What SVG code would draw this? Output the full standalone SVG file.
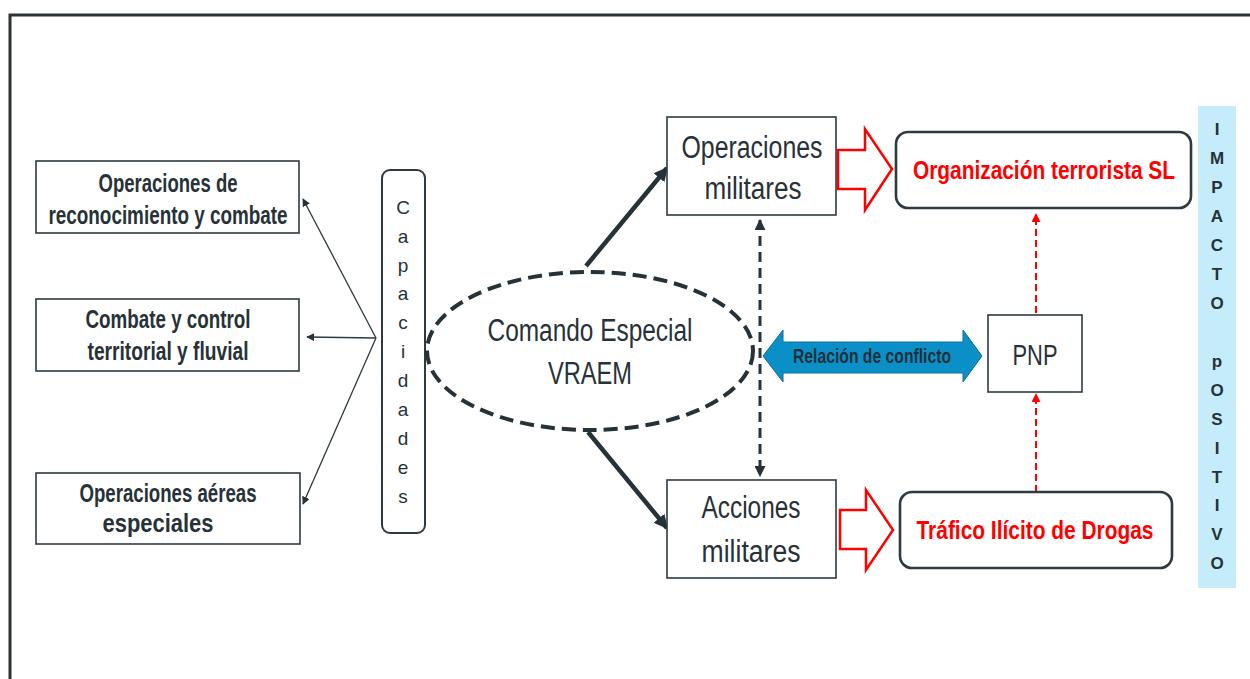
<svg xmlns="http://www.w3.org/2000/svg" width="1250" height="679" viewBox="0 0 1250 679">
<style>
text{font-family:"Liberation Sans Narrow","Liberation Sans",Arial,sans-serif;fill:#263238;text-anchor:middle}
.b{font-weight:bold}
.box{fill:#fff;stroke:#2e3a40;stroke-width:1.6}
.rbox{fill:#fff;stroke:#2e3a40;stroke-width:2.6}
.red{fill:#ff0000}
.thin{stroke:#2e3a40;stroke-width:1.3;fill:none}
.thick{stroke:#263238;stroke-width:4.5;fill:none}
.let{font-size:19px}
.imp{font-size:17px;font-weight:bold}
</style>
<defs>
<marker id="ah" viewBox="0 0 10 10" refX="9" refY="5" markerWidth="8" markerHeight="8" markerUnits="userSpaceOnUse" orient="auto"><path d="M0,0 L10,5 L0,10 z" fill="#263238"/></marker>
<marker id="ahT" viewBox="0 0 10 10" refX="9" refY="5" markerWidth="14" markerHeight="14" markerUnits="userSpaceOnUse" orient="auto"><path d="M0,0 L10,5 L0,10 z" fill="#263238"/></marker>
<marker id="ahD" viewBox="0 0 10 10" refX="9" refY="5" markerWidth="11" markerHeight="11" markerUnits="userSpaceOnUse" orient="auto-start-reverse"><path d="M0,0 L10,5 L0,10 z" fill="#263238"/></marker>
<marker id="ahR" viewBox="0 0 10 10" refX="9" refY="5" markerWidth="9" markerHeight="9" markerUnits="userSpaceOnUse" orient="auto"><path d="M0,0 L10,5 L0,10 z" fill="#ff0000"/></marker>
</defs>
<rect width="1250" height="679" fill="#fff"/>
<path d="M10,679 V15 H1250" fill="none" stroke="#2b3338" stroke-width="3"/>

<g id="impacto">
<rect x="1198" y="106" width="38" height="482" fill="#c5ecfb"/>
<text class="imp" x="1217" y="135">I</text>
<text class="imp" x="1217" y="164">M</text>
<text class="imp" x="1217" y="193">P</text>
<text class="imp" x="1217" y="222">A</text>
<text class="imp" x="1217" y="251">C</text>
<text class="imp" x="1217" y="280">T</text>
<text class="imp" x="1217" y="309">O</text>
<text class="imp" x="1217" y="367">p</text>
<text class="imp" x="1217" y="396">O</text>
<text class="imp" x="1217" y="425">S</text>
<text class="imp" x="1217" y="454">I</text>
<text class="imp" x="1217" y="483">T</text>
<text class="imp" x="1217" y="511">I</text>
<text class="imp" x="1217" y="540">V</text>
<text class="imp" x="1217" y="569">O</text>
</g>

<g id="connectors">
<line class="thin" x1="376" y1="338" x2="303" y2="199" marker-end="url(#ah)"/>
<line class="thin" x1="376" y1="338" x2="307" y2="337" marker-end="url(#ah)"/>
<line class="thin" x1="376" y1="338" x2="303" y2="504" marker-end="url(#ah)"/>
<line class="thick" x1="586" y1="266" x2="667" y2="168" marker-end="url(#ahT)"/>
<line class="thick" x1="588" y1="432" x2="667" y2="528" marker-end="url(#ahT)"/>
<line x1="760" y1="220" x2="760" y2="476" stroke="#263238" stroke-width="3" stroke-dasharray="10,6" marker-start="url(#ahD)" marker-end="url(#ahD)"/>
<line x1="1036" y1="313" x2="1036" y2="214" stroke="#ff0000" stroke-width="2" stroke-dasharray="7,4" marker-end="url(#ahR)"/>
<line x1="1036" y1="492" x2="1036" y2="394" stroke="#ff0000" stroke-width="2" stroke-dasharray="7,4" marker-end="url(#ahR)"/>
<polygon points="838,150 865,150 865,129 892,169 865,210 865,189 838,189" fill="#fff" stroke="#ff0000" stroke-width="2.5"/>
<polygon points="840,510 866,510 866,490 893,530 866,570 866,549 840,549" fill="#fff" stroke="#ff0000" stroke-width="2.5"/>
<g id="relacion">
<polygon points="763,356 783,330 783,342 963,342 963,330 982,356 963,382 963,373 783,373 783,382" fill="#0a90c6" stroke="#0b6f9a" stroke-width="1"/>
<text class="b" x="872" y="363" font-size="21" textLength="158" lengthAdjust="spacingAndGlyphs" style="fill:#1e2f3c">Relación de conflicto</text>
</g>
</g>

<g id="n-reconocimiento">
<rect class="box" x="36" y="161" width="263" height="72"/>
<text class="b" x="168" y="192" font-size="25" textLength="139" lengthAdjust="spacingAndGlyphs">Operaciones de</text>
<text class="b" x="168" y="224" font-size="25" textLength="239" lengthAdjust="spacingAndGlyphs">reconocimiento y combate</text>
</g>
<g id="n-combate">
<rect class="box" x="36" y="299" width="263" height="72"/>
<text class="b" x="168" y="328" font-size="25" textLength="165" lengthAdjust="spacingAndGlyphs">Combate y control</text>
<text class="b" x="168" y="360" font-size="25" textLength="161" lengthAdjust="spacingAndGlyphs">territorial y fluvial</text>
</g>
<g id="n-aereas">
<rect class="box" x="36" y="473" width="264" height="71"/>
<text class="b" x="168" y="502" font-size="25" textLength="177" lengthAdjust="spacingAndGlyphs">Operaciones aéreas</text>
<text class="b" x="158" y="532" font-size="25" textLength="111" lengthAdjust="spacingAndGlyphs">especiales</text>
</g>

<g id="n-capacidades">
<rect x="382" y="170" width="43" height="363" rx="8" fill="#fff" stroke="#2e3a40" stroke-width="2"/>
<text class="let" x="403" y="214">C</text>
<text class="let" x="403" y="243">a</text>
<text class="let" x="403" y="272">p</text>
<text class="let" x="403" y="300">a</text>
<text class="let" x="403" y="329">c</text>
<text class="let" x="403" y="358">i</text>
<text class="let" x="403" y="387">d</text>
<text class="let" x="403" y="416">a</text>
<text class="let" x="403" y="445">d</text>
<text class="let" x="403" y="474">e</text>
<text class="let" x="403" y="503">s</text>
</g>

<g id="n-comando">
<ellipse cx="590" cy="351" rx="163" ry="79" fill="#fff" stroke="#263238" stroke-width="4" stroke-dasharray="14,7"/>
<text x="590" y="341" font-size="31" textLength="205" lengthAdjust="spacingAndGlyphs">Comando Especial</text>
<text x="590" y="384" font-size="31" textLength="84" lengthAdjust="spacingAndGlyphs">VRAEM</text>
</g>

<g id="n-operaciones">
<rect class="box" x="667" y="117" width="169" height="98"/>
<text x="752" y="158" font-size="31" textLength="141" lengthAdjust="spacingAndGlyphs">Operaciones</text>
<text x="753" y="199" font-size="31" textLength="97" lengthAdjust="spacingAndGlyphs">militares</text>
</g>
<g id="n-acciones">
<rect class="box" x="667" y="480" width="169" height="98"/>
<text x="751" y="518" font-size="31" textLength="99" lengthAdjust="spacingAndGlyphs">Acciones</text>
<text x="751" y="562" font-size="31" textLength="99" lengthAdjust="spacingAndGlyphs">militares</text>
</g>

<g id="n-organizacion">
<rect class="rbox" x="896" y="132" width="295" height="76" rx="12"/>
<text class="b red" x="1044" y="179" font-size="25" textLength="262" lengthAdjust="spacingAndGlyphs">Organización terrorista SL</text>
</g>
<g id="n-pnp">
<rect class="box" x="988" y="315" width="94" height="77"/>
<text x="1035" y="365" font-size="30" textLength="45" lengthAdjust="spacingAndGlyphs">PNP</text>
</g>
<g id="n-trafico">
<rect class="rbox" x="900" y="492" width="272" height="76" rx="12"/>
<text class="b red" x="1035" y="539" font-size="25" textLength="237" lengthAdjust="spacingAndGlyphs">Tráfico Ilícito de Drogas</text>
</g>
</svg>
